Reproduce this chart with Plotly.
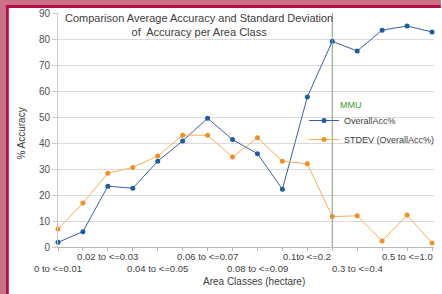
import plotly.graph_objects as go

categories = ["0 to <=0.01", "0.01 to <=0.02", "0.02 to <=0.03", "0.03 to <=0.04",
              "0.04 to <=0.05", "0.05 to <=0.06", "0.06 to <=0.07", "0.07 to <=0.08",
              "0.08 to <=0.09", "0.09 to <=0.1", "0.1to <=0.2", "0.2 to <=0.3",
              "0.3 to <=0.4", "0.4 to <=0.5", "0.5 to <=1.0", ">1.0"]
overall_acc = [1.8, 5.9, 23.4, 22.6, 33.0, 40.8, 49.5, 41.3, 35.9, 22.2, 57.7, 79.1, 75.4, 83.4, 85.0, 82.7]
stdev_acc = [6.9, 16.9, 28.4, 30.6, 35.0, 43.0, 43.0, 34.6, 42.0, 33.0, 32.0, 11.7, 12.0, 2.3, 12.3, 1.5]
y_ticks = [0, 10, 20, 30, 40, 50, 60, 70, 80, 90]
mmu_category = "0.2 to <=0.3"

W, H = 442, 294
L, R, T, B = 58, 2, 13, 47
pw, ph = W - L - R, H - T - B

def px_x(p):
    return (p - L) / pw

def px_y(p):
    return (H - B - p) / ph

idx = list(range(len(categories)))
mmu_idx = categories.index(mmu_category)

fig = go.Figure()
fig.add_trace(go.Scatter(
    x=idx, y=overall_acc, name="OverallAcc%", mode="lines+markers",
    line=dict(color="#3d5fa8", width=1),
    marker=dict(color="#1f5c9e", size=5), cliponaxis=False))
fig.add_trace(go.Scatter(
    x=idx, y=stdev_acc, name="STDEV (OverallAcc%)", mode="lines+markers",
    line=dict(color="#f6ae5c", width=1),
    marker=dict(color="#f0902a", size=5), cliponaxis=False))

pink = "#cc7088"
border = "#b3104a"
shapes = [
    dict(type="rect", xref="paper", yref="paper", layer="below",
         x0=px_x(-5), x1=px_x(5), y0=px_y(H + 5), y1=px_y(-5),
         fillcolor=pink, line=dict(width=0)),
    dict(type="rect", xref="paper", yref="paper", layer="below",
         x0=px_x(-5), x1=px_x(W + 5), y0=px_y(5), y1=px_y(-5),
         fillcolor=pink, line=dict(width=0)),
    dict(type="line", xref="paper", yref="paper", layer="below",
         x0=px_x(6.5), x1=px_x(6.5), y0=px_y(H + 5), y1=px_y(5),
         line=dict(color=border, width=3)),
    dict(type="line", xref="paper", yref="paper", layer="below",
         x0=px_x(5), x1=px_x(W + 5), y0=px_y(6.5), y1=px_y(6.5),
         line=dict(color=border, width=3)),
    dict(type="line", xref="x", yref="paper", x0=mmu_idx, x1=mmu_idx, y0=0, y1=1,
         line=dict(color="#7ea27e", width=1)),
]

annotations = [
    dict(text="Comparison Average Accuracy and Standard Deviation<br>of  Accuracy per Area Class",
         xref="paper", yref="paper", x=px_x(201), y=px_y(25), xanchor="center", yanchor="middle",
         showarrow=False, font=dict(size=11, color="#404040")),
    dict(text="MMU", xref="paper", yref="paper", x=px_x(342), y=px_y(105),
         xanchor="left", yanchor="middle", showarrow=False,
         font=dict(size=9, color="#3a9a2a")),
    dict(text="% Accuracy", xref="paper", yref="paper", x=px_x(20), y=px_y(134),
         xanchor="center", yanchor="middle", textangle=-90, showarrow=False,
         font=dict(size=10, color="#404040")),
    dict(text="Area Classes (hectare)", xref="paper", yref="paper", x=px_x(257), y=px_y(281),
         xanchor="center", yanchor="middle", showarrow=False,
         font=dict(size=10, color="#404040")),
]
for i, lab in enumerate(categories):
    if i % 2 == 1:
        continue
    row_top = (i // 2) % 2 == 1
    annotations.append(dict(
        text=lab, xref="x", yref="paper", x=i,
        y=px_y(256) if row_top else px_y(268),
        xanchor="center", yanchor="middle", showarrow=False,
        font=dict(size=9.5, color="#404040")))

fig.update_layout(
    width=W, height=H,
    margin=dict(l=L, r=R, t=T, b=B, pad=0),
    paper_bgcolor="white",
    plot_bgcolor="rgba(0,0,0,0)",
    font=dict(family="Liberation Sans, Arial, sans-serif", color="#404040"),
    showlegend=True,
    legend=dict(x=px_x(308), y=px_y(106), xanchor="left", yanchor="top",
                bgcolor="rgba(0,0,0,0)", font=dict(size=9, color="#404040"),
                itemwidth=30, tracegroupgap=0),
    shapes=shapes,
    annotations=annotations,
    xaxis=dict(range=[0, 15.08], tickvals=idx, ticktext=[""] * len(idx),
               showgrid=False, zeroline=False, showline=True, linecolor="#b8b8b8",
               ticks="outside", ticklen=3, tickcolor="#b8b8b8"),
    yaxis=dict(range=[0, 90], tickvals=y_ticks, showgrid=True, gridcolor="#dcdcdc",
               zeroline=False, showline=True, linecolor="#c8c8c8",
               ticks="outside", ticklen=5, tickcolor="#c8c8c8",
               tickfont=dict(size=10, color="#505050")),
)

fig.write_html("out.html", config={"displayModeBar": False},
               post_script="document.body.style.margin='0px';document.body.style.overflow='hidden';")
